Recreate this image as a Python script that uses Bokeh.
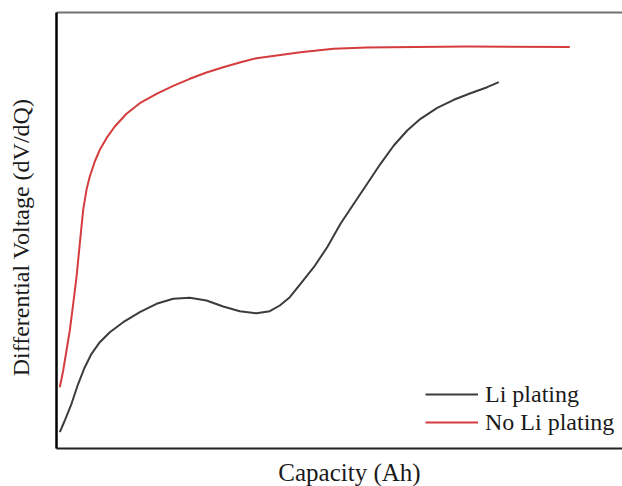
import math
from bokeh.plotting import figure
from bokeh.models import Range1d, LinearAxis, Legend, LegendItem, FixedTicker, Label
from bokeh.embed import file_html
from bokeh.resources import INLINE

# Capacity (arbitrary units) and differential voltage (arbitrary units)
li_x = [0.033, 0.083, 0.15, 0.217, 0.283, 0.35, 0.433, 0.533, 0.667, 0.833, 1.00,
        1.167, 1.333, 1.50, 1.667, 1.833, 2.00, 2.133, 2.233, 2.333, 2.44, 2.573,
        2.707, 2.84, 2.973, 3.107, 3.24, 3.373, 3.507, 3.64, 3.807, 3.973, 4.14,
        4.307, 4.423]
li_y = [0.163, 0.28, 0.447, 0.647, 0.813, 0.947, 1.063, 1.163, 1.263, 1.363, 1.447,
        1.497, 1.507, 1.48, 1.42, 1.373, 1.353, 1.373, 1.43, 1.513, 1.647, 1.813,
        2.013, 2.247, 2.447, 2.647, 2.847, 3.03, 3.18, 3.297, 3.407, 3.487, 3.553,
        3.613, 3.663]

noli_x = [0.033, 0.067, 0.10, 0.133, 0.167, 0.20, 0.24, 0.267, 0.30, 0.333, 0.383,
          0.433, 0.50, 0.583, 0.70, 0.833, 1.00, 1.167, 1.333, 1.50, 1.667, 1.833,
          2.00, 2.44, 2.77, 3.107, 3.34, 4.107, 5.133]
noli_y = [0.613, 0.78, 0.98, 1.18, 1.447, 1.713, 2.12, 2.387, 2.587, 2.72, 2.87,
          2.987, 3.103, 3.22, 3.347, 3.453, 3.547, 3.627, 3.697, 3.76, 3.813, 3.86,
          3.903, 3.963, 3.997, 4.01, 4.013, 4.02, 4.015]

series_names = ["Li plating", "No Li plating"]
x_label = "Capacity (Ah)"
y_label = "Differential Voltage (dV/dQ)"

FONT = "Liberation Serif"
TEXT_COLOR = "#1a1a1a"

p = figure(width=622, height=486, output_backend="svg", toolbar_location=None,
           x_range=Range1d(0, 5.66), y_range=Range1d(0, 4.36),
           x_axis_type=None, y_axis_type=None,
           min_border_left=56, min_border_right=0, min_border_top=12,
           min_border_bottom=38)
p.outline_line_color = None
p.xgrid.grid_line_color = None
p.ygrid.grid_line_color = None
p.background_fill_color = "white"
p.border_fill_color = "white"

def make_axis(color, width):
    ax = LinearAxis(ticker=FixedTicker(ticks=[]))
    ax.major_tick_line_color = None
    ax.minor_tick_line_color = None
    ax.major_tick_out = 0
    ax.major_tick_in = 0
    ax.major_label_standoff = 0
    ax.major_label_text_font_size = "0px"
    ax.axis_line_color = color
    ax.axis_line_width = width
    return ax

p.add_layout(make_axis("#000000", 2.5), "left")
p.add_layout(make_axis("#222222", 2), "below")
p.add_layout(make_axis("#707070", 2), "above")

r1 = p.line(li_x, li_y, line_color="#3c3c3c", line_width=2, line_join="round")
r2 = p.line(noli_x, noli_y, line_color="#d43c3e", line_width=2, line_join="round")

# axis titles placed in the side panels
p.add_layout(Label(x=293, y=3, x_units="screen", y_units="screen", text=x_label,
                   text_font=FONT, text_font_size="25px", text_color=TEXT_COLOR,
                   text_align="center", text_baseline="alphabetic"), "below")
p.add_layout(Label(x=-10, y=211, x_units="screen", y_units="screen", text=y_label,
                   angle=math.pi / 2, text_font=FONT, text_font_size="24px",
                   text_color=TEXT_COLOR, text_align="center",
                   text_baseline="alphabetic"), "left")

legend = Legend(items=[LegendItem(label=series_names[0], renderers=[r1]),
                       LegendItem(label=series_names[1], renderers=[r2])],
                location=(369, 12), orientation="vertical",
                glyph_width=53, glyph_height=28, label_height=28,
                label_standoff=7, spacing=0, padding=0, margin=0,
                label_text_font=FONT, label_text_font_size="24px",
                label_text_color=TEXT_COLOR,
                border_line_color=None, background_fill_alpha=0)
p.add_layout(legend)

open("out.html", "w").write(file_html(p, INLINE))
